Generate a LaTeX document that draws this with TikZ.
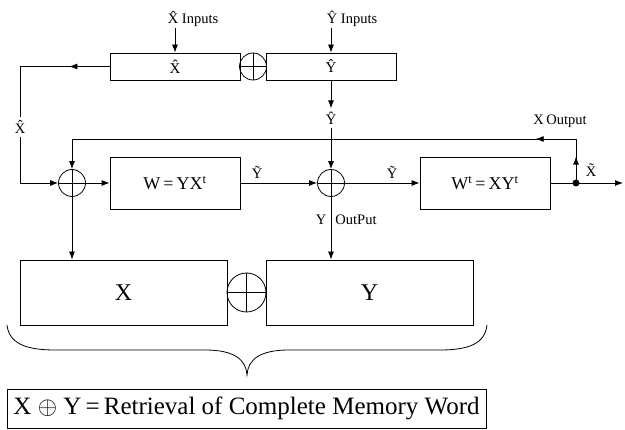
\documentclass[tikz,border=0pt]{standalone}
\usepackage{fontspec}
\setmainfont{Liberation Serif}
\usetikzlibrary{arrows.meta,decorations.markings}

\tikzset{
  >={Latex[length=8pt,width=6pt]},
  blk/.style={draw,line width=0.8pt,inner sep=0pt},
  sumnode/.style={circle,draw,line width=0.8pt,minimum size=#1,inner sep=0pt,
    path picture={\draw[line width=0.8pt]
      (path picture bounding box.north) -- (path picture bounding box.south)
      (path picture bounding box.west) -- (path picture bounding box.east);}},
  sumnode/.default=27pt,
  lbl/.style={font=\fontsize{14.5}{17}\selectfont,inner sep=1pt},
  midarrow/.style={postaction={decorate},
    decoration={markings,mark=at position #1 with {\arrow{>}}}},
}

\begin{document}
\begin{tikzpicture}[x=1pt,y=-1pt,line width=0.8pt]
  \useasboundingbox (0,0) rectangle (625,430);

  % input registers
  \node[blk,minimum width=130pt,minimum height=27pt,font=\fontsize{15}{18}\selectfont] (xhat) at (175,66.5) {\^{X}};
  \node[sumnode] (topsum) at (253,66.5) {};
  \node[blk,minimum width=130pt,minimum height=27pt,font=\fontsize{15}{18}\selectfont] (yhat) at (331,66.5) {\^{Y}};
  \node[lbl] (xin) at (193,19) {\^{X} Inputs};
  \node[lbl] (yin) at (352,19) {\^{Y} Inputs};
  \draw[->] (xin.south -| xhat.north) -- (xhat.north);
  \draw[->] (yin.south -| yhat.north) -- (yhat.north);

  % associative memory stage
  \node[sumnode] (sum1) at (72,183) {};
  \node[blk,minimum width=130pt,minimum height=52pt,font=\fontsize{18}{21}\selectfont] (w) at (175,183) {W\,=\,YX\textsuperscript{t}};
  \node[sumnode] (sum2) at (331,183) {};
  \node[blk,minimum width=130pt,minimum height=52pt,font=\fontsize{18}{21}\selectfont] (wt) at (485,183) {W\textsuperscript{t}\,=\,XY\textsuperscript{t}};
  \fill (576,183) circle (3.5pt) coordinate (dot);
  \coordinate (out) at (623,183);

  % labels on the lines
  \node[lbl,inner sep=3pt] (xlbl) at (20,127) {\^{X}};
  \node[lbl,inner sep=3pt] (ylbl) at (331,118) {\^{Y}};
  \node[lbl] at (257,172) {\~{Y}};
  \node[lbl] at (392,172) {\~{Y}};
  \node[lbl] at (591,170) {\~{X}};
  \node[lbl] at (560,121) {X\,Output};
  \node[lbl] at (321,220) {Y};
  \node[lbl] at (356,220) {OutPut};

  % X-hat loop on the left
  \coordinate (tl) at (20,66.5);
  \coordinate (bl) at (20,183);
  \draw[midarrow=0.45] (xhat.west) -- (tl);
  \draw (tl) -- (xlbl.north);
  \draw[->] (xlbl.south) -- (bl) -- (sum1.west);

  % forward path
  \draw[->] (sum1.east) -- (w.west);
  \draw[->] (w.east) -- (sum2.west);
  \draw[->] (sum2.east) -- (wt.west);
  \draw (wt.east) -- (dot);
  \draw[->] (dot) -- (out);
  \draw[->] (yhat.south) -- (ylbl.north);
  \draw[->] (ylbl.south) -- (sum2.north);

  % X output fed back
  \coordinate (fr) at (576,139);
  \coordinate (fl) at (72,139);
  \draw[midarrow=0.6] (dot) -- (fr);
  \draw[midarrow=0.08] (fr) -- (fl);
  \draw[->] (fl) -- (sum1.north);

  % recovered memory word
  \node[blk,minimum width=207pt,minimum height=65pt,font=\fontsize{24}{28}\selectfont] (xbox) at (123.5,292.5) {X};
  \node[sumnode=39pt] (midsum) at (246.5,292.5) {};
  \node[blk,minimum width=207pt,minimum height=65pt,font=\fontsize{24}{28}\selectfont] (ybox) at (369.5,292.5) {Y};
  \draw[->] (sum1.south) -- (sum1.south |- xbox.north);
  \draw[->] (sum2.south) -- (sum2.south |- ybox.north);

  % brace
  \draw (7,325) .. controls (9,343) and (25,350) .. (55,350) -- (205,350)
    .. controls (235,350) and (246,360) .. (247,375)
    .. controls (248,360) and (259,350) .. (289,350) -- (440,350)
    .. controls (470,350) and (485,343) .. (487,325);

  \node[blk,minimum width=479pt,minimum height=39pt,font=\fontsize{25}{29}\selectfont] (word) at (246.5,408.5)
    {X $\oplus$ Y\,=\,Retrieval of Complete Memory Word};
\end{tikzpicture}
\end{document}
